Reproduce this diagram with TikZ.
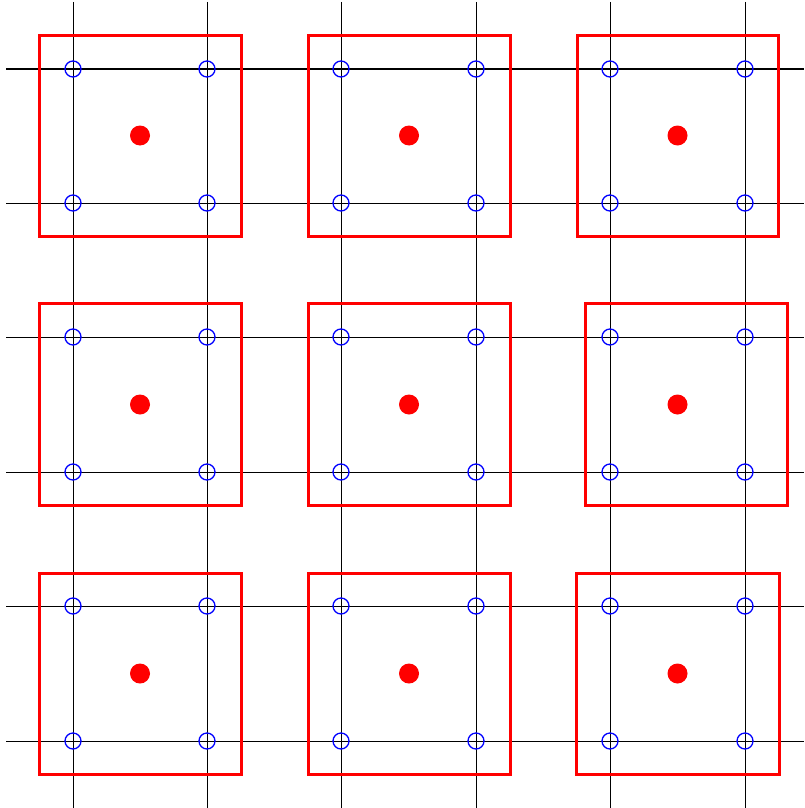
\documentclass[tikz,border=0pt]{standalone}
\begin{document}
\begin{tikzpicture}[x=1pt,y=-1pt,
  gridline/.style={black,line width=1pt},
  cellbox/.style={draw=red,line width=3pt},
  vertex/.style={circle,draw=blue,line width=1.3pt,minimum size=16pt,inner sep=0pt},
  centre/.style={circle,fill=red,minimum size=20pt,inner sep=0pt}]
\useasboundingbox (0,0) rectangle (804,808);
\fill[white] (0,0) rectangle (804,808);
% grid
\foreach \v in {73,207,341,476,610,745}{
  \draw[gridline] (\v,2) -- (\v,808);
}
\foreach \h in {69,203,337,472,606,741}{
  \draw[gridline] (6,\h) -- (804,\h);
}
% red boxes
\foreach \l/\t/\r/\b in {39/35.5/241/236.5, 308/35.5/510/236.5, 577/35.5/778/236.5,
  39/303.5/241/505.5, 308/303.5/510/505.5, 585/303.5/787/505.5,
  39/573/241/774, 308/573/510/774, 576/573/779/774}{
  \draw[cellbox] (\l,\t) rectangle (\r,\b);
}
% blue circles
\foreach \v in {73,207,341,476,610,745}{
  \foreach \h in {69,203,337,472,606,741}{
    \node[vertex] at (\v,\h) {};
  }
}
% red dots
\foreach \v in {140,409,677.5}{
  \foreach \h in {135.5,404.5,673.5}{
    \node[centre] at (\v,\h) {};
  }
}
\end{tikzpicture}
\end{document}
